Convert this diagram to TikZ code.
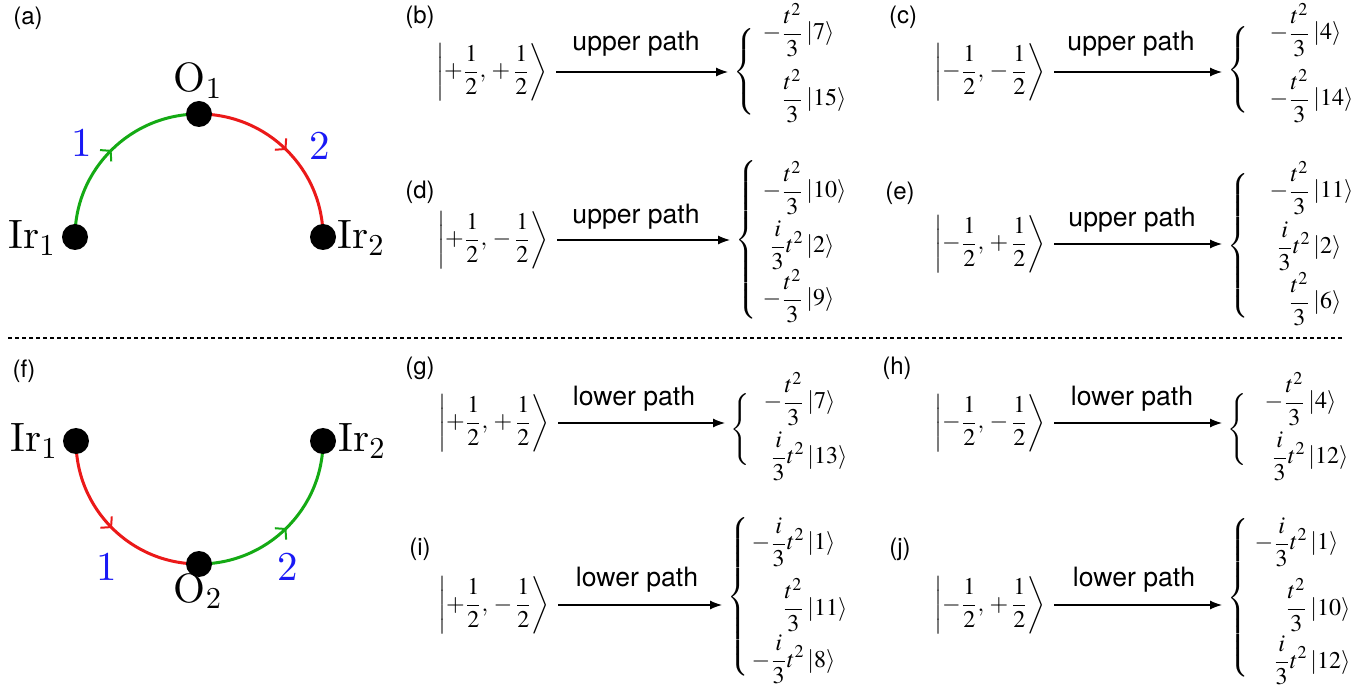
\documentclass[tikz,border=0pt]{standalone}
\usepackage[no-math]{fontspec}
\usepackage{mathptmx}
\renewcommand{\rmdefault}{lmr}
\newfontfamily\hv{TeX Gyre Heros}
\newfontfamily\cmten{lmroman10-regular.otf}
\usetikzlibrary{arrows.meta,decorations.markings}
\definecolor{pgreen}{RGB}{20,170,20}
\definecolor{pred}{RGB}{235,25,25}
\definecolor{pblue}{RGB}{25,25,245}
\pgfdeclarelayer{bg}
\pgfsetlayers{bg,main}
\newcommand\ent[2]{\llap{$\displaystyle #1\,$}$|#2\rangle$}
\newcommand\ketv[2]{$\displaystyle\left|\vcenter{\hbox{\rule{0pt}{29pt}}}{#1}\frac{1}{2},\,{#2}\,\frac{1}{2}\right\rangle$}
\newcommand\brc[1]{$\delimiterfactor=1000\delimitershortfall=0pt\left\{\vcenter{\hbox{\rule{0pt}{#1}}}\right.$}
\tikzset{
  dot/.style={circle,fill=black,inner sep=0pt,minimum size=13pt},
  cmlab/.style={inner sep=0pt,font=\cmten\fontsize{20.5}{24}\selectfont},
  numlab/.style={cmlab,text=pblue,anchor=base},
  plab/.style={inner sep=0pt,font=\hv\fontsize{12}{14}\selectfont},
  pathlab/.style={inner sep=0pt,anchor=base,font=\hv\fontsize{13.3}{16}\selectfont},
  ketn/.style={inner sep=0pt,font=\fontsize{12}{14}\selectfont},
  entry/.style={inner sep=0pt,anchor=base west,font=\fontsize{12}{14}\selectfont},
  bracen/.style={inner sep=0pt,anchor=west,font=\fontsize{12}{14}\selectfont},
  arr/.style={line width=0.6pt,-{Latex[length=6pt,width=4.5pt]},shorten <=4pt,shorten >=2.5pt},
  arcl/.style={line width=1.5pt},
  midarr/.style={postaction={decorate},decoration={markings,
     mark=at position 0.5 with {\arrow[line width=1pt]{Straight Barb[length=3.5pt,width=8pt]}}}},
  sepline/.style={line width=0.65pt,dash pattern=on 2pt off 1.5pt}
}
\begin{document}
\begin{tikzpicture}[x=0.5pt,y=-0.5pt]
\useasboundingbox (0,0) rectangle (1371,689);
% ---------- panel (a)
\node[plab] (la) at (28,18) {(a)};
\node[dot] (Ir1a) at (75,237) {};
\node[dot] (O1) at (199,114) {};
\node[dot] (Ir2a) at (323,237) {};
\begin{pgfonlayer}{bg}
\draw[arcl,pgreen,midarr] (Ir1a.center) .. controls +(0,-68) and +(-68,0) .. (O1.center);
\draw[arcl,pred,midarr] (O1.center) .. controls +(68,0) and +(0,-68) .. (Ir2a.center);
\end{pgfonlayer}
\node[cmlab,anchor=base] (tO1) at (198,92) {O\textsubscript{1}};
\node[cmlab,anchor=base east] (tIr1a) at (56,249) {Ir\textsubscript{1}};
\node[cmlab,anchor=base west] (tIr2a) at (337,249) {Ir\textsubscript{2}};
\node[numlab] (n1a) at (82,157) {1};
\node[numlab] (n2a) at (320,160) {2};
% ---------- panel (f)
\node[plab] (lf) at (24,371) {(f)};
\node[dot] (Ir1f) at (76,441) {};
\node[dot] (O2) at (199,564) {};
\node[dot] (Ir2f) at (323,441) {};
\begin{pgfonlayer}{bg}
\draw[arcl,pred,midarr] (Ir1f.center) .. controls +(0,68) and +(-68,0) .. (O2.center);
\draw[arcl,pgreen,midarr] (O2.center) .. controls +(68,0) and +(0,68) .. (Ir2f.center);
\end{pgfonlayer}
\node[cmlab,anchor=base] (tO2) at (198,602) {O\textsubscript{2}};
\node[cmlab,anchor=base east] (tIr1f) at (58,452) {Ir\textsubscript{1}};
\node[cmlab,anchor=base west] (tIr2f) at (338,452) {Ir\textsubscript{2}};
\node[numlab] (n1f) at (107,580) {1};
\node[numlab] (n2f) at (288,580) {2};
% ---------- separator
\draw[sepline] (8,338) -- (1343,338);
% ---------- panel (b)
\node[plab] (lb) at (420,17) {(b)};
\node[ketn] (kb) at (492,72) {\ketv{+}{+}};
\node[pathlab] (pb) at (636,51) {upper path};
\node[bracen] (bb) at (733,72) {\brc{36pt}};
\draw[arr] (kb.east) -- (kb.east -| bb.west);
\node[entry] (eb1) at (806,40) {\ent{-\frac{t^2}{3}}{7}};
\node[entry] (eb2) at (806,106) {\ent{\frac{t^2}{3}}{15}};
% ---------- panel (c)
\node[plab] (lc) at (903,17) {(c)};
\node[ketn] (kc) at (990,72) {\ketv{-}{-}};
\node[pathlab] (pc) at (1131,51) {upper path};
\node[bracen] (bc) at (1227,70) {\brc{38pt}};
\draw[arr] (kc.east) -- (kc.east -| bc.west);
\node[entry] (ec1) at (1313,40) {\ent{-\frac{t^2}{3}}{4}};
\node[entry] (ec2) at (1313,106) {\ent{-\frac{t^2}{3}}{14}};
% ---------- panel (d)
\node[plab] (ld) at (420,192) {(d)};
\node[ketn] (kd) at (493,240) {\ketv{+}{-}};
\node[pathlab] (pd) at (636,224) {upper path};
\node[bracen] (bd) at (735,240) {\brc{72pt}};
\draw[arr] (kd.east) -- (kd.east -| bd.west);
\node[entry] (ed1) at (806,198) {\ent{-\frac{t^2}{3}}{10}};
\node[entry] (ed2) at (806,253) {\ent{\frac{i}{3}t^2}{2}};
\node[entry] (ed3) at (806,306) {\ent{-\frac{t^2}{3}}{9}};
% ---------- panel (e)
\node[plab] (le) at (900,193) {(e)};
\node[ketn] (ke) at (990,244) {\ketv{-}{+}};
\node[pathlab] (pe) at (1132,227) {upper path};
\node[bracen] (be) at (1227,246) {\brc{70pt}};
\draw[arr] (ke.east) -- (ke.east -| be.west);
\node[entry] (ee1) at (1313,198) {\ent{-\frac{t^2}{3}}{11}};
\node[entry] (ee2) at (1313,254) {\ent{\frac{i}{3}t^2}{2}};
\node[entry] (ee3) at (1313,309) {\ent{\frac{t^2}{3}}{6}};
% ---------- panel (g)
\node[plab] (lg) at (420,368) {(g)};
\node[ketn] (kg) at (494,423) {\ketv{+}{+}};
\node[pathlab] (pg) at (634,406) {lower path};
\node[bracen] (bg) at (730,430) {\brc{31pt}};
\draw[arr] (kg.east) -- (kg.east -| bg.west);
\node[entry] (eg1) at (807,409) {\ent{-\frac{t^2}{3}}{7}};
\node[entry] (eg2) at (807,464) {\ent{\frac{i}{3}t^2}{13}};
% ---------- panel (h)
\node[plab] (lh) at (897,368) {(h)};
\node[ketn] (kh) at (990,423) {\ketv{-}{-}};
\node[pathlab] (ph) at (1132,406) {lower path};
\node[bracen] (bh) at (1227,430) {\brc{31pt}};
\draw[arr] (kh.east) -- (kh.east -| bh.west);
\node[entry] (eh1) at (1308,409) {\ent{-\frac{t^2}{3}}{4}};
\node[entry] (eh2) at (1308,464) {\ent{\frac{i}{3}t^2}{12}};
% ---------- panel (i)
\node[plab] (li) at (420,549) {(i)};
\node[ketn] (ki) at (494,605) {\ketv{+}{-}};
\node[pathlab] (pi) at (637,586) {lower path};
\node[bracen] (bi) at (727,597) {\brc{76pt}};
\draw[arr] (ki.east) -- (ki.east -| bi.west);
\node[entry] (ei1) at (807,550) {\ent{-\frac{i}{3}t^2}{1}};
\node[entry] (ei2) at (807,615) {\ent{\frac{t^2}{3}}{11}};
\node[entry] (ei3) at (807,667) {\ent{-\frac{i}{3}t^2}{8}};
% ---------- panel (j)
\node[plab] (lj) at (900,549) {(j)};
\node[ketn] (kj) at (990,605) {\ketv{-}{+}};
\node[pathlab] (pj) at (1134,586) {lower path};
\node[bracen] (bj) at (1227,598) {\brc{76pt}};
\draw[arr] (kj.east) -- (kj.east -| bj.west);
\node[entry] (ej1) at (1310,550) {\ent{-\frac{i}{3}t^2}{1}};
\node[entry] (ej2) at (1310,615) {\ent{\frac{t^2}{3}}{10}};
\node[entry] (ej3) at (1310,668) {\ent{\frac{i}{3}t^2}{12}};
\end{tikzpicture}
\end{document}
